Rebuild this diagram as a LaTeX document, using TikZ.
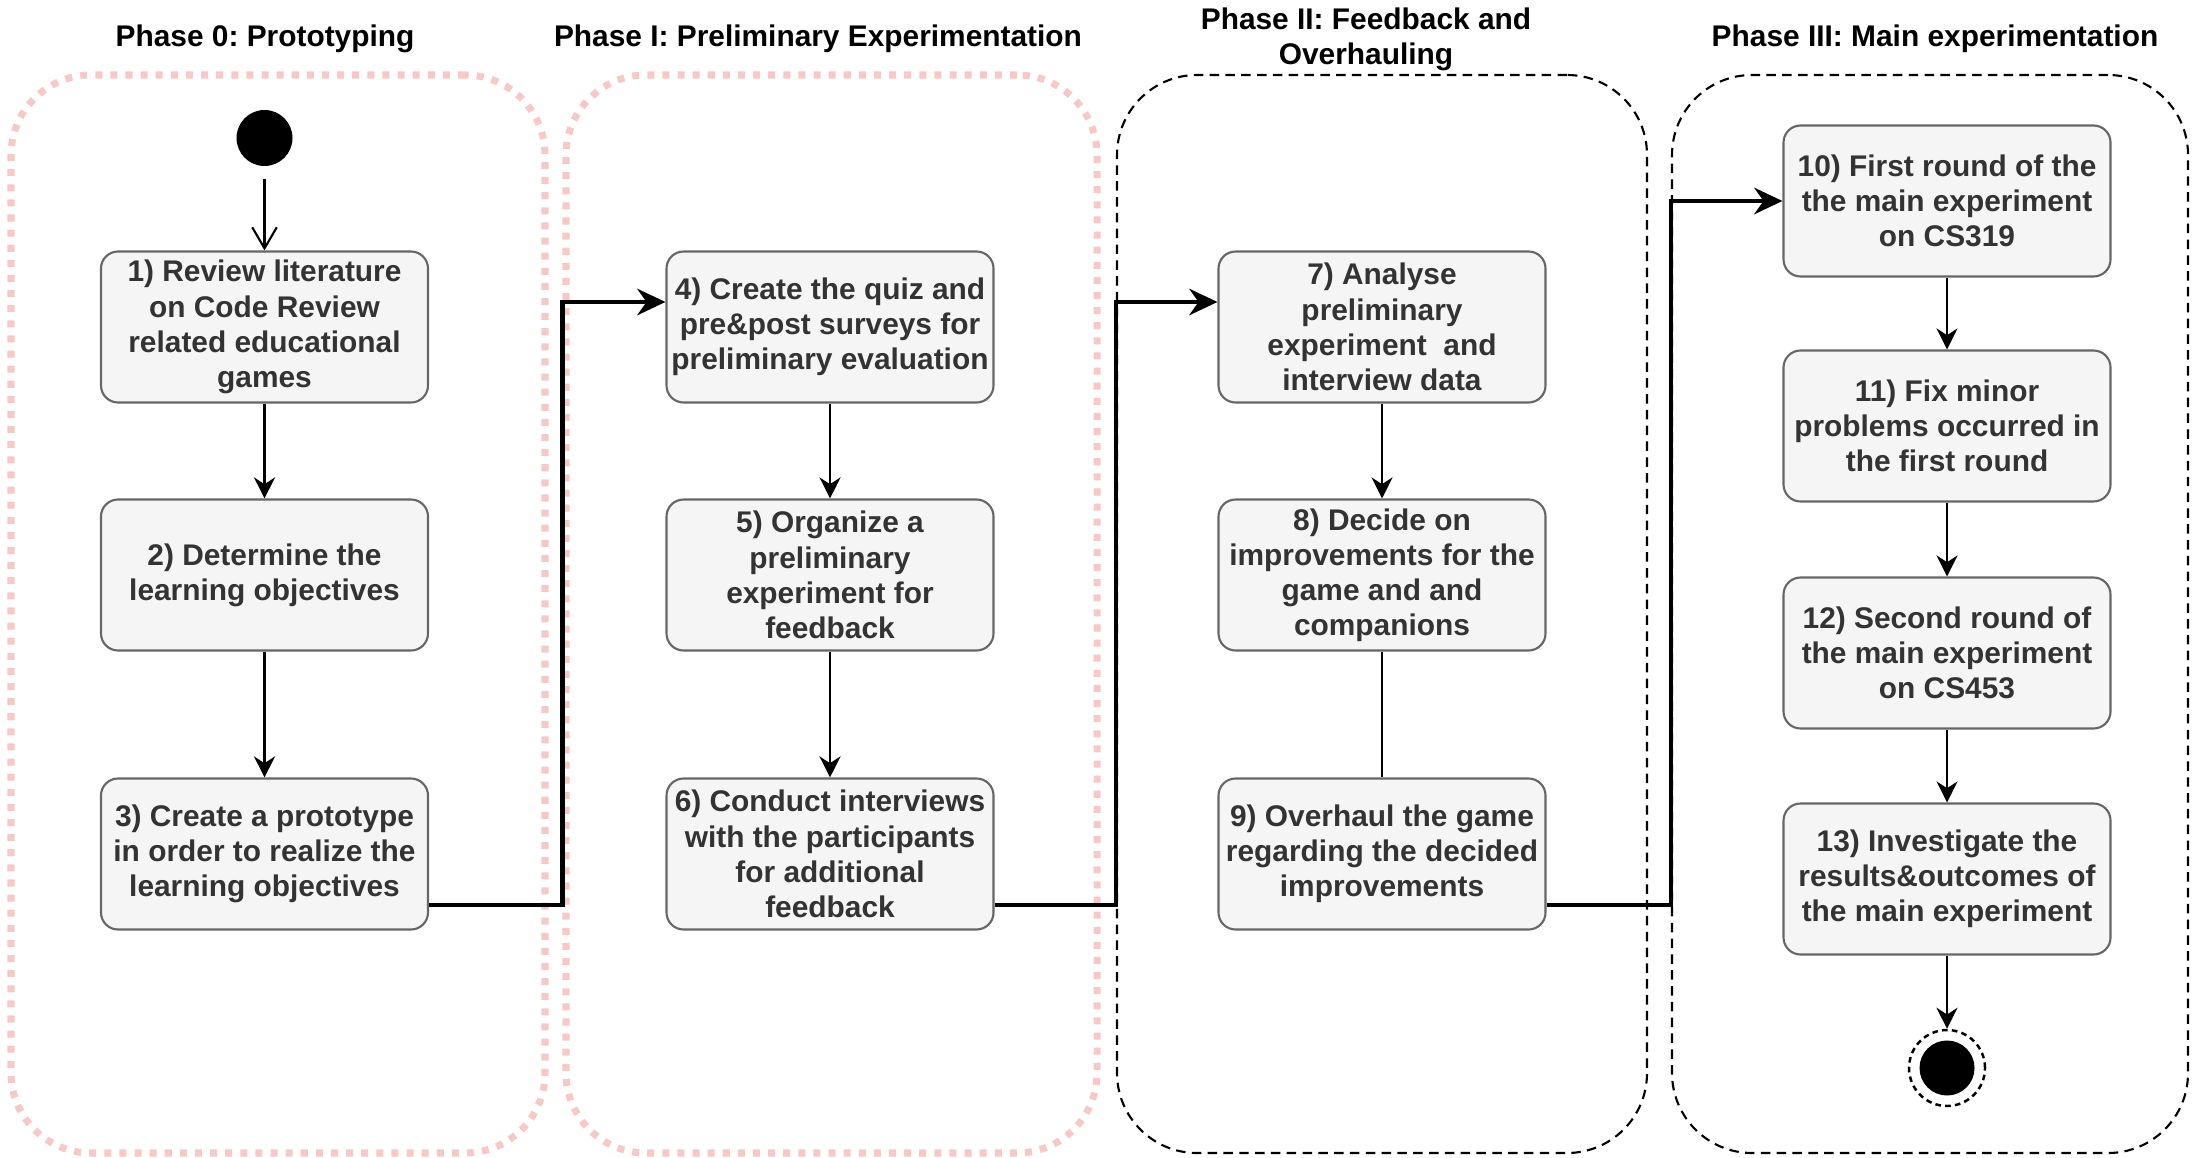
\documentclass[tikz,border=0pt]{standalone}
\usepackage{fontspec}
\setmainfont{Liberation Sans}
\usepackage{tikz,xcolor}
\usetikzlibrary{arrows.meta}
\definecolor{framepink}{HTML}{F6C8C6}
\definecolor{boxgray}{HTML}{666666}
\definecolor{boxfill}{HTML}{F5F5F5}
\definecolor{boxtext}{HTML}{333333}
\frenchspacing

\begin{document}
\begin{tikzpicture}[font=\fontsize{8.5}{10}\selectfont\bfseries,
    act/.style={draw=boxgray,fill=boxfill,text=boxtext,rounded corners=0.17cm,line width=0.6pt,
        align=center,minimum width=3.27cm,minimum height=1.51cm,inner sep=1pt},
    pinkframe/.style={draw=framepink,line width=2pt,dash pattern=on 2pt off 2.3pt,rounded corners=0.8cm},
    blackframe/.style={draw,line width=0.6pt,dash pattern=on 2.7pt off 1.8pt,rounded corners=0.8cm},
    arr/.style={-{Stealth[length=6pt,width=6pt]},line width=0.6pt},
    openarr/.style={-{Straight Barb[length=6pt,width=7pt]},line width=0.6pt},
    bigarr/.style={-{Stealth[length=8pt,width=7.5pt]},line width=1.3pt}]
    \useasboundingbox (0,0) rectangle (21.92,11.57);
    \foreach \n/\x/\w/\s in {f0/2.78/5.34/pinkframe,f1/8.315/5.31/pinkframe,f2/13.82/5.30/blackframe,f3/19.30/5.16/blackframe}{
        \node[\s,minimum width=\w cm,minimum height=10.78cm,inner sep=0] (\n) at (\x,5.43) {};
    }
    \node (t0) at (2.65,11.18) {Phase 0: Prototyping};
    \node (t1) at (8.18,11.18) {Phase I: Preliminary Experimentation};
    \node[align=center] (t2) at (13.66,11.18) {Phase II: Feedback and\\Overhauling};
    \node (t3) at (19.35,11.18) {Phase III: Main experimentation};

    \node[circle,fill,minimum size=0.56cm,inner sep=0] (s) at (2.645,10.19) {};
    \node[act] (b1) at (2.645,8.30) {1) Review literature\\on Code Review\\related educational\\games};
    \node[act] (b2) at (2.645,5.82) {2) Determine the\\learning objectives};
    \node[act] (b3) at (2.645,3.03) {3) Create a prototype\\in order to realize the\\learning objectives};
    \node[act] (b4) at (8.30,8.30) {4) Create the quiz and\\pre\&post surveys for\\preliminary evaluation};
    \node[act] (b5) at (8.30,5.82) {5) Organize a\\preliminary\\experiment for\\feedback};
    \node[act] (b6) at (8.30,3.03) {6) Conduct interviews\\with the participants\\for additional\\feedback};
    \node[act] (b7) at (13.82,8.30) {7) Analyse\\preliminary\\experiment~ and\\interview data};
    \node[act] (b8) at (13.82,5.82) {8) Decide on\\improvements for the\\game and and\\companions};
    \node[act] (b9) at (13.82,3.03) {9) Overhaul the game\\regarding the decided\\improvements};
    \node[act] (b10) at (19.47,9.56) {10) First round of the\\the main experiment\\on CS319};
    \node[act] (b11) at (19.47,7.31) {11) Fix minor\\problems occurred in\\the first round};
    \node[act] (b12) at (19.47,5.04) {12) Second round of\\the main experiment\\on CS453};
    \node[act] (b13) at (19.47,2.78) {13) Investigate the\\results\&outcomes of\\the main experiment};
    \node[circle,draw,line width=0.7pt,dash pattern=on 1.6pt off 1.2pt,minimum size=0.76cm,inner sep=0] (e) at (19.47,0.89) {};
    \node[circle,fill,minimum size=0.55cm,inner sep=0] (ein) at (e) {};

    \draw[openarr,shorten <=0.12cm] (s) -- (b1);
    \foreach \a/\b in {b1/b2,b2/b3,b4/b5,b5/b6,b7/b8,b10/b11,b11/b12,b12/b13,b13/e}{
        \draw[arr] (\a) -- (\b);
    }
    \draw[line width=0.6pt] (b8) -- (b9);
    \draw[bigarr] ([yshift=-5.1mm]b3.east) -| (f1.west) |- ([yshift=2.5mm]b4.west);
    \draw[bigarr] ([yshift=-5.1mm]b6.east) -| (f2.west) |- ([yshift=2.5mm]b7.west);
    \draw[bigarr] ([yshift=-5.1mm]b9.east) -| (f3.west) |- (b10.west);
\end{tikzpicture}
\end{document}
